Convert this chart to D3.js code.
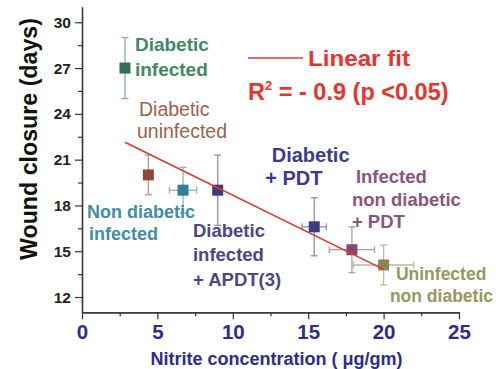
<!DOCTYPE html>
<html>
<head>
<meta charset="utf-8">
<script src="https://cdn.jsdelivr.net/npm/d3@7"></script>
<style>
  body { margin: 0; background: #fff; }
  svg { display: block; font-family: "Liberation Sans", Arial, sans-serif; }
</style>
</head>
<body>
<div id="chart"></div>
<script>
// values
const groups = [
  "Diabetic infected",
  "Diabetic uninfected",
  "Non diabetic infected",
  "Diabetic infected + APDT(3)",
  "Diabetic + PDT",
  "Infected non diabetic + PDT",
  "Uninfected non diabetic"
];
const nitrite = [2.85, 4.4, 6.7, 9.0, 15.4, 17.9, 20.0];
const nitriteErr = [0, 0, 0.9, 0, 0.8, 1.5, 2.0];
const closureDays = [27.0, 20.0, 19.0, 19.0, 16.6, 15.1, 14.1];
const closureErr = [2.0, 1.3, 1.5, 2.3, 1.9, 1.5, 1.3];

const fitIntercept = 23.53;
const fitSlope = -0.486;
const fitRange = [2.85, 20];

const xTicks = [0, 5, 10, 15, 20, 25];
const xMinor = [2.5, 7.5, 12.5, 17.5, 22.5];
const yTicks = [12, 15, 18, 21, 24, 27, 30];
const yMinor = [13.5, 16.5, 19.5, 22.5, 25.5, 28.5];

// label text lines for each group
const labelLines = [
  ["Diabetic", "infected"],
  ["Diabetic", "uninfected"],
  ["Non diabetic", "infected"],
  ["Diabetic", "infected", "+ APDT(3)"],
  ["Diabetic", "+ PDT"],
  ["Infected", "non diabetic", "+ PDT"],
  ["Uninfected", "non diabetic"]
];

// styling
const markerColors = ["#2f7150", "#8e4a38", "#2f7f98", "#403c78", "#3c3c7e", "#864a72", "#8a8850"];
const labelColors = ["#3f8a63", "#a0604c", "#3f8ea8", "#4b4787", "#3a3a9a", "#8d5578", "#999760"];
// label anchors in data units, per-line x offsets in px
const labelLayout = [
  { x: 3.51, y: 28.11, dx: [0, 0], lh: 25, size: 19, weight: "bold" },
  { x: 3.78, y: 23.87, dx: [0, -2], lh: 22.6, size: 19.5, weight: "normal" },
  { x: 0.33, y: 17.2, dx: [0, 2], lh: 22.3, size: 18, weight: "bold" },
  { x: 7.36, y: 15.95, dx: [0, 0, 0], lh: 24.7, size: 18.5, weight: "bold" },
  { x: 12.58, y: 20.86, dx: [0, -6.5], lh: 23.5, size: 20, weight: "bold" },
  { x: 17.9, y: 19.47, dx: [4, 0, 0], lh: 22.5, size: 18.5, weight: "bold" },
  { x: 20.42, y: 13.12, dx: [6, 0], lh: 22.5, size: 17.5, weight: "bold" }
];

const red = "#e8342b";
const navy = "#2d2d8e";

const width = 501, height = 369;
const margin = { top: 7, right: 42, bottom: 56.7, left: 82 };

const svg = d3.select("#chart").append("svg")
  .attr("width", width)
  .attr("height", height);

const x = d3.scaleLinear().domain([0, 25]).range([margin.left, width - margin.right]);
const y = d3.scaleLinear().domain([11, 31]).range([height - margin.bottom, margin.top]);

// axes
const axisColor = "#333";
function styleAxis(g) {
  g.select(".domain").attr("stroke", axisColor).attr("stroke-width", 1.3);
  g.selectAll(".tick line").attr("stroke", axisColor).attr("stroke-width", 1.2);
}

svg.append("g")
  .attr("transform", `translate(0,${y(11)})`)
  .call(d3.axisBottom(x).tickValues(xMinor).tickSize(4).tickFormat("").tickSizeOuter(0))
  .call(styleAxis);
const xAxis = svg.append("g")
  .attr("transform", `translate(0,${y(11)})`)
  .call(d3.axisBottom(x).tickValues(xTicks).tickSize(7).tickSizeOuter(0).tickPadding(5))
  .call(styleAxis);
xAxis.selectAll(".tick text")
  .attr("fill", navy)
  .attr("font-size", 20.5)
  .attr("font-weight", "bold")
  .attr("font-family", "Liberation Sans, Arial, sans-serif");

svg.append("g")
  .attr("transform", `translate(${x(0)},0)`)
  .call(d3.axisLeft(y).tickValues(yMinor).tickSize(4).tickFormat("").tickSizeOuter(0))
  .call(styleAxis);
const yAxis = svg.append("g")
  .attr("transform", `translate(${x(0)},0)`)
  .call(d3.axisLeft(y).tickValues(yTicks).tickSize(7).tickSizeOuter(0).tickPadding(4))
  .call(styleAxis);
yAxis.selectAll(".tick text")
  .attr("fill", "#222")
  .attr("font-size", 15.5)
  .attr("font-weight", "bold")
  .attr("font-family", "Liberation Sans, Arial, sans-serif");

// axis titles
svg.append("text")
  .attr("x", (x(0) + x(25)) / 2 + 6)
  .attr("y", 365)
  .attr("text-anchor", "middle")
  .attr("fill", navy)
  .attr("font-size", 18)
  .attr("font-weight", "bold")
  .text("Nitrite concentration ( \u03bcg/gm)");

svg.append("text")
  .attr("transform", "translate(37,139) rotate(-90)")
  .attr("text-anchor", "middle")
  .attr("fill", "#111")
  .attr("font-size", 24)
  .attr("font-weight", "bold")
  .attr("textLength", 242)
  .attr("lengthAdjust", "spacingAndGlyphs")
  .text("Wound closure (days)");

// points
const points = groups.map((g, i) => ({
  group: g,
  x: nitrite[i], xe: nitriteErr[i],
  y: closureDays[i], ye: closureErr[i],
  color: markerColors[i]
}));

const errColor = c => d3.interpolateRgb(c, "#fff")(0.42);
const cap = 3.5;
const bars = svg.append("g").attr("class", "errorbars");
points.forEach(p => {
  const g = bars.append("g").attr("stroke", errColor(p.color)).attr("stroke-width", 1.3);
  g.append("line").attr("x1", x(p.x)).attr("x2", x(p.x)).attr("y1", y(p.y - p.ye)).attr("y2", y(p.y + p.ye));
  g.append("line").attr("x1", x(p.x) - cap).attr("x2", x(p.x) + cap).attr("y1", y(p.y + p.ye)).attr("y2", y(p.y + p.ye));
  g.append("line").attr("x1", x(p.x) - cap).attr("x2", x(p.x) + cap).attr("y1", y(p.y - p.ye)).attr("y2", y(p.y - p.ye));
  if (p.xe > 0) {
    g.append("line").attr("x1", x(p.x - p.xe)).attr("x2", x(p.x + p.xe)).attr("y1", y(p.y)).attr("y2", y(p.y));
    g.append("line").attr("x1", x(p.x - p.xe)).attr("x2", x(p.x - p.xe)).attr("y1", y(p.y) - cap).attr("y2", y(p.y) + cap);
    g.append("line").attr("x1", x(p.x + p.xe)).attr("x2", x(p.x + p.xe)).attr("y1", y(p.y) - cap).attr("y2", y(p.y) + cap);
  }
});

const size = 11;
svg.append("g").selectAll("rect")
  .data(points)
  .enter()
  .append("rect")
  .attr("x", d => x(d.x) - size / 2)
  .attr("y", d => y(d.y) - size / 2)
  .attr("width", size)
  .attr("height", size)
  .attr("fill", d => d.color);

// linear fit
svg.append("line")
  .attr("x1", x(fitRange[0]))
  .attr("y1", y(fitIntercept + fitSlope * fitRange[0]))
  .attr("x2", x(fitRange[1]))
  .attr("y2", y(fitIntercept + fitSlope * fitRange[1]))
  .attr("stroke", red)
  .attr("stroke-width", 1.6);

// group labels
labelLines.forEach((lines, i) => {
  const l = labelLayout[i];
  const t = svg.append("text")
    .attr("fill", labelColors[i])
    .attr("font-size", l.size)
    .attr("font-weight", l.weight);
  lines.forEach((line, j) => {
    t.append("tspan")
      .attr("x", x(l.x) + l.dx[j])
      .attr("y", y(l.y) + j * l.lh)
      .text(line);
  });
});

// legend
svg.append("line")
  .attr("x1", 248).attr("x2", 303)
  .attr("y1", 58).attr("y2", 58)
  .attr("stroke", red).attr("stroke-width", 1.6);
svg.append("text")
  .attr("x", 308).attr("y", 65.7)
  .attr("fill", red)
  .attr("font-size", 22)
  .attr("font-weight", "bold")
  .attr("textLength", 102)
  .attr("lengthAdjust", "spacingAndGlyphs")
  .text("Linear fit");
const r2 = svg.append("text")
  .attr("x", 248).attr("y", 99.5)
  .attr("fill", red)
  .attr("font-size", 23.5)
  .attr("font-weight", "bold");
r2.append("tspan").text("R");
r2.append("tspan").attr("font-size", 13).attr("dy", -10).text("2");
r2.append("tspan").attr("dy", 10).text(" = - 0.9 (p <0.05)");
</script>
</body>
</html>
